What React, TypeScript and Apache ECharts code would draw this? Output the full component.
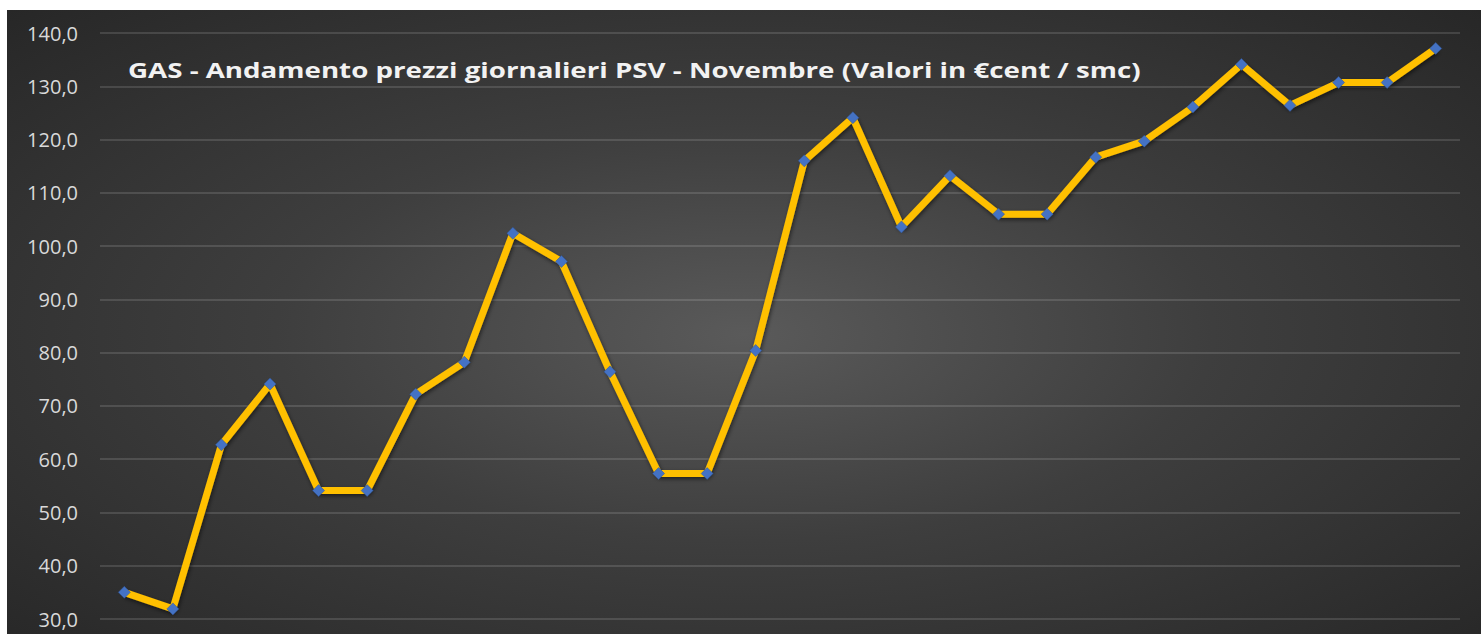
import React, { useEffect, useRef } from "react";
import * as echarts from "echarts";

const days = ["1", "2", "3", "4", "5", "6", "7", "8", "9", "10", "11", "12", "13", "14", "15", "16", "17", "18", "19", "20", "21", "22", "23", "24", "25", "26", "27", "28"];
const prices = [35.0, 31.9, 62.7, 74.1, 54.1, 54.1, 72.2, 78.2, 102.4, 97.1, 76.4, 57.3, 57.3, 80.4, 116.0, 124.1, 103.6, 113.2, 106.0, 106.0, 116.7, 119.7, 126.1, 134.1, 126.4, 130.7, 130.7, 137.1];
const titleText = "GAS - Andamento prezzi giornalieri PSV - Novembre (Valori in €cent / smc)";

export default function App() {
  const ref = useRef<HTMLDivElement>(null);
  useEffect(() => {
    if (!ref.current) return;
    const chart = echarts.init(ref.current, undefined, { renderer: "svg" });
    chart.setOption({
      animation: false,
      backgroundColor: "transparent",
      graphic: [
        {
          type: "text",
          x: 121,
          y: 60,
          scaleX: 1.32,
          z: 10,
          style: {
            text: titleText,
            fill: "#f2f2f2",
            font: "bold 21px 'Open Sans'",
            textVerticalAlign: "middle",
            shadowColor: "rgba(0,0,0,0.85)",
            shadowBlur: 3,
            shadowOffsetX: 1,
            shadowOffsetY: 2,
          },
        },
      ],
      grid: { left: 93, right: 21, top: 23, bottom: 15 },
      xAxis: {
        type: "category",
        data: days,
        boundaryGap: true,
        axisLine: { show: false },
        axisTick: { show: false },
        axisLabel: { show: false },
      },
      yAxis: {
        type: "value",
        min: 30,
        max: 140,
        interval: 10,
        axisLine: { show: false },
        axisTick: { show: false },
        axisLabel: {
          color: "#d9d9d9",
          fontFamily: "Open Sans",
          fontSize: 20,
          margin: 22,
          formatter: (v: number) => v.toFixed(1).replace(".", ","),
        },
        splitLine: { lineStyle: { color: "rgba(255,255,255,0.13)", width: 2 } },
      },
      series: [
        {
          type: "line",
          data: prices,
          symbol: "diamond",
          symbolSize: 12,
          lineStyle: {
            color: "#FFC000",
            width: 7,
            shadowColor: "rgba(0,0,0,0.55)",
            shadowBlur: 4,
            shadowOffsetX: 1,
            shadowOffsetY: 2,
          },
          itemStyle: {
            color: "#4472C4",
            borderColor: "#2f5597",
            borderWidth: 0.5,
          },
        },
      ],
    });
    return () => chart.dispose();
  }, []);
  return (
    <div style={{ position: "fixed", left: 0, top: 0, width: 1481, height: 634, background: "#ffffff" }}>
      <div
        style={{
          position: "absolute",
          left: 7,
          top: 10,
          width: 1474,
          height: 624,
          background: "radial-gradient(ellipse farthest-corner at 50% 52%, #5a5a5a 0%, #3e3e3e 45%, #272727 100%)",
        }}
      >
        <div ref={ref} style={{ width: 1474, height: 624 }} />
      </div>
    </div>
  );
}
